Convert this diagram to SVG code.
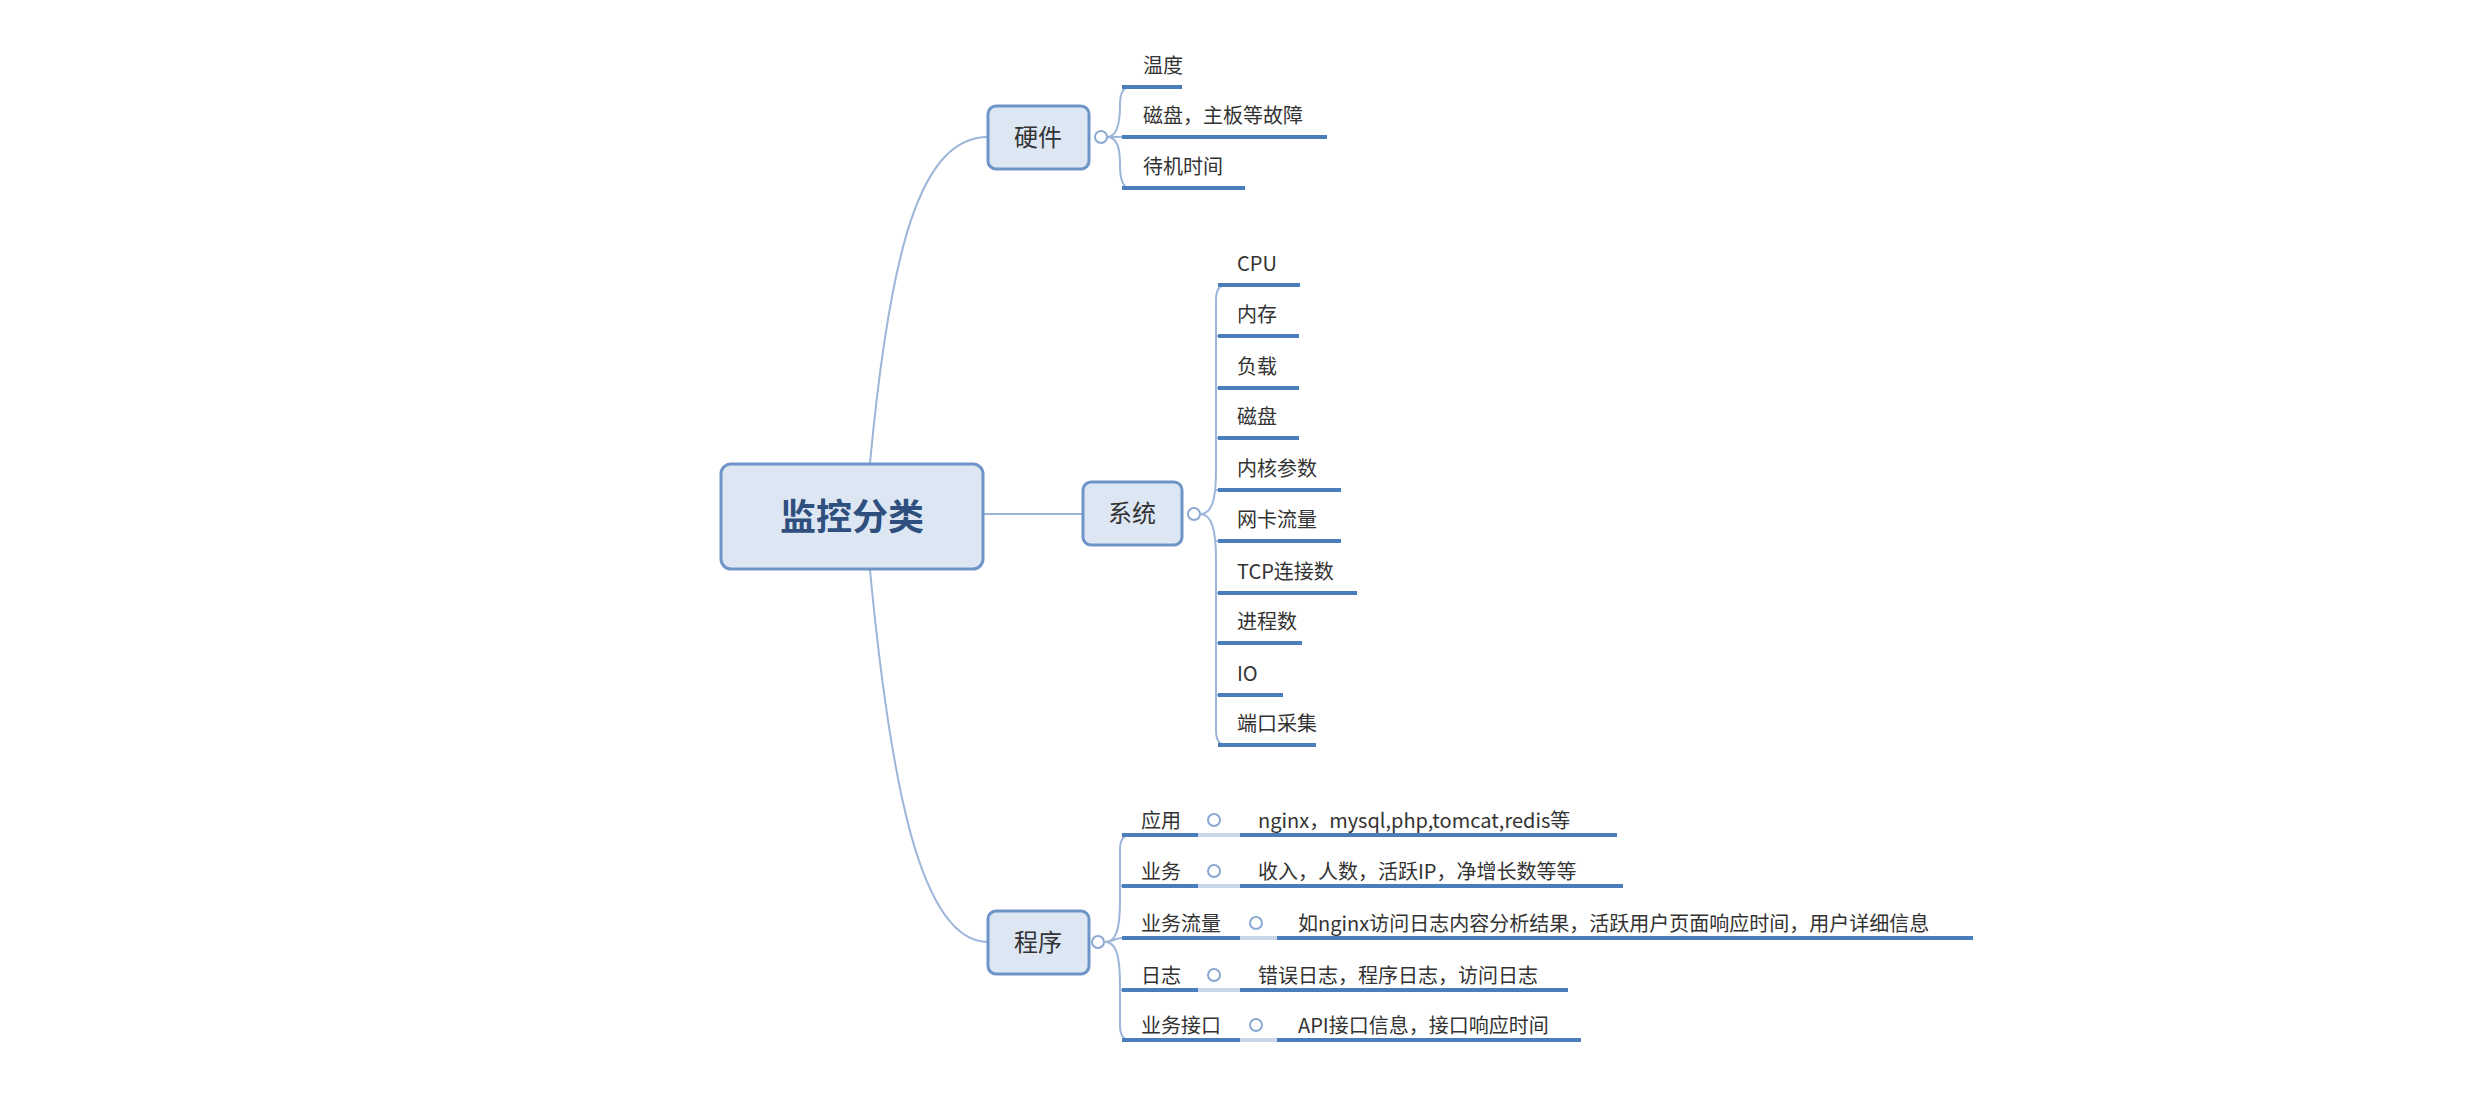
<svg xmlns="http://www.w3.org/2000/svg" width="2471" height="1112" viewBox="0 0 2471 1112">
<style>
text{font-family:"Noto Sans CJK SC","Liberation Sans",sans-serif;fill:#333;}
.lf{font-size:20px;}
.ul{stroke:#4a7ebb;stroke-width:4;}
.ul2{stroke:#c8d6ea;stroke-width:4;}
.c{fill:none;stroke:#9db5d9;stroke-width:2;}
.box{fill:#dde7f3;stroke:#6f95c8;stroke-width:3;}
.dot{fill:#fff;stroke:#8aa8d2;stroke-width:2;}
</style>
<rect width="2471" height="1112" fill="#fff"/>
<g id="connectors">
<path class="c" d="M870,463 C890,250 920,137 988,137"/>
<path class="c" d="M983,514 L1083,514"/>
<path class="c" d="M870,570 C890,780 920,942 988,942"/>
<path class="c" d="M1107,137 C1118,137 1120,120 1120,105 Q1120,87 1130,87 M1107,137 L1122,137 M1107,137 C1118,137 1120,150 1120,165 Q1120,188 1130,188"/>
<path class="c" d="M1200,514 C1212,514 1216,500 1216,470 L1216,300 Q1216,285 1226,285 M1200,514 C1212,514 1216,530 1216,560 L1216,730 Q1216,745 1226,745 M1216,336 h6 M1216,388 h6 M1216,438 h6 M1216,490 Q1216,490 1222,490 M1216,541 h6 M1216,593 h6 M1216,643 h6 M1216,695 h6"/>
<path class="c" d="M1105,942 C1116,942 1120,930 1120,900 L1120,850 Q1120,835 1130,835 M1105,942 C1116,942 1120,955 1120,985 L1120,1025 Q1120,1040 1130,1040 M1120,886 h6 M1105,942 C1112,942 1115,938 1122,938 M1120,990 h6"/>
</g>
<g id="root"><rect class="box" x="721" y="464" width="262" height="105" rx="10" stroke="#4f81bd" stroke-width="5" fill="#dce6f2"/><text x="852" y="530" font-size="36" font-weight="bold" text-anchor="middle" fill="#2f4f7f" style="fill:#2f4f7f">监控分类</text></g>
<g id="hw"><rect class="box" x="988" y="106" width="101" height="63" rx="8"/><text x="1038" y="146" font-size="24" text-anchor="middle">硬件</text><circle class="dot" cx="1101" cy="137" r="6"/></g>
<g id="hw-leaves">
<text class="lf" x="1143" y="73">温度</text><line class="ul" x1="1122" y1="87" x2="1182" y2="87"/>
<text class="lf" x="1143" y="123">磁盘，主板等故障</text><line class="ul" x1="1122" y1="137" x2="1327" y2="137"/>
<text class="lf" x="1143" y="174">待机时间</text><line class="ul" x1="1122" y1="188" x2="1245" y2="188"/>
</g>
<g id="sys"><rect class="box" x="1083" y="482" width="99" height="63" rx="8"/><text x="1132" y="522" font-size="24" text-anchor="middle">系统</text><circle class="dot" cx="1194" cy="514" r="6"/></g>
<g id="sys-leaves">
<text class="lf" x="1237" y="271">CPU</text><line class="ul" x1="1218" y1="285" x2="1300" y2="285"/>
<text class="lf" x="1237" y="322">内存</text><line class="ul" x1="1218" y1="336" x2="1299" y2="336"/>
<text class="lf" x="1237" y="374">负载</text><line class="ul" x1="1218" y1="388" x2="1299" y2="388"/>
<text class="lf" x="1237" y="424">磁盘</text><line class="ul" x1="1218" y1="438" x2="1299" y2="438"/>
<text class="lf" x="1237" y="476">内核参数</text><line class="ul" x1="1218" y1="490" x2="1341" y2="490"/>
<text class="lf" x="1237" y="527">网卡流量</text><line class="ul" x1="1218" y1="541" x2="1341" y2="541"/>
<text class="lf" x="1237" y="579">TCP连接数</text><line class="ul" x1="1218" y1="593" x2="1357" y2="593"/>
<text class="lf" x="1237" y="629">进程数</text><line class="ul" x1="1218" y1="643" x2="1302" y2="643"/>
<text class="lf" x="1237" y="681">IO</text><line class="ul" x1="1218" y1="695" x2="1283" y2="695"/>
<text class="lf" x="1237" y="731">端口采集</text><line class="ul" x1="1218" y1="745" x2="1316" y2="745"/>
</g>
<g id="prog"><rect class="box" x="988" y="911" width="101" height="63" rx="8"/><text x="1038" y="951" font-size="24" text-anchor="middle">程序</text><circle class="dot" cx="1098" cy="942" r="6"/></g>
<g id="prog-leaves">
<text class="lf" x="1141" y="828">应用</text><circle class="dot" cx="1214" cy="820" r="6"/><line class="ul" x1="1122" y1="835" x2="1198" y2="835"/><line class="ul2" x1="1198" y1="835" x2="1240" y2="835"/>
<text class="lf" x="1258" y="828">nginx，mysql,php,tomcat,redis等</text><line class="ul" x1="1240" y1="835" x2="1617" y2="835"/>
<text class="lf" x="1141" y="879">业务</text><circle class="dot" cx="1214" cy="871" r="6"/><line class="ul" x1="1122" y1="886" x2="1198" y2="886"/><line class="ul2" x1="1198" y1="886" x2="1240" y2="886"/>
<text class="lf" x="1258" y="879">收入，人数，活跃IP，净增长数等等</text><line class="ul" x1="1240" y1="886" x2="1623" y2="886"/>
<text class="lf" x="1141" y="931">业务流量</text><circle class="dot" cx="1256" cy="923" r="6"/><line class="ul" x1="1122" y1="938" x2="1240" y2="938"/><line class="ul2" x1="1240" y1="938" x2="1277" y2="938"/>
<text class="lf" x="1298" y="931">如nginx访问日志内容分析结果，活跃用户页面响应时间，用户详细信息</text><line class="ul" x1="1277" y1="938" x2="1973" y2="938"/>
<text class="lf" x="1141" y="983">日志</text><circle class="dot" cx="1214" cy="975" r="6"/><line class="ul" x1="1122" y1="990" x2="1198" y2="990"/><line class="ul2" x1="1198" y1="990" x2="1240" y2="990"/>
<text class="lf" x="1258" y="983">错误日志，程序日志，访问日志</text><line class="ul" x1="1240" y1="990" x2="1568" y2="990"/>
<text class="lf" x="1141" y="1033">业务接口</text><circle class="dot" cx="1256" cy="1025" r="6"/><line class="ul" x1="1122" y1="1040" x2="1240" y2="1040"/><line class="ul2" x1="1240" y1="1040" x2="1277" y2="1040"/>
<text class="lf" x="1298" y="1033">API接口信息，接口响应时间</text><line class="ul" x1="1277" y1="1040" x2="1581" y2="1040"/>
</g>
</svg>
